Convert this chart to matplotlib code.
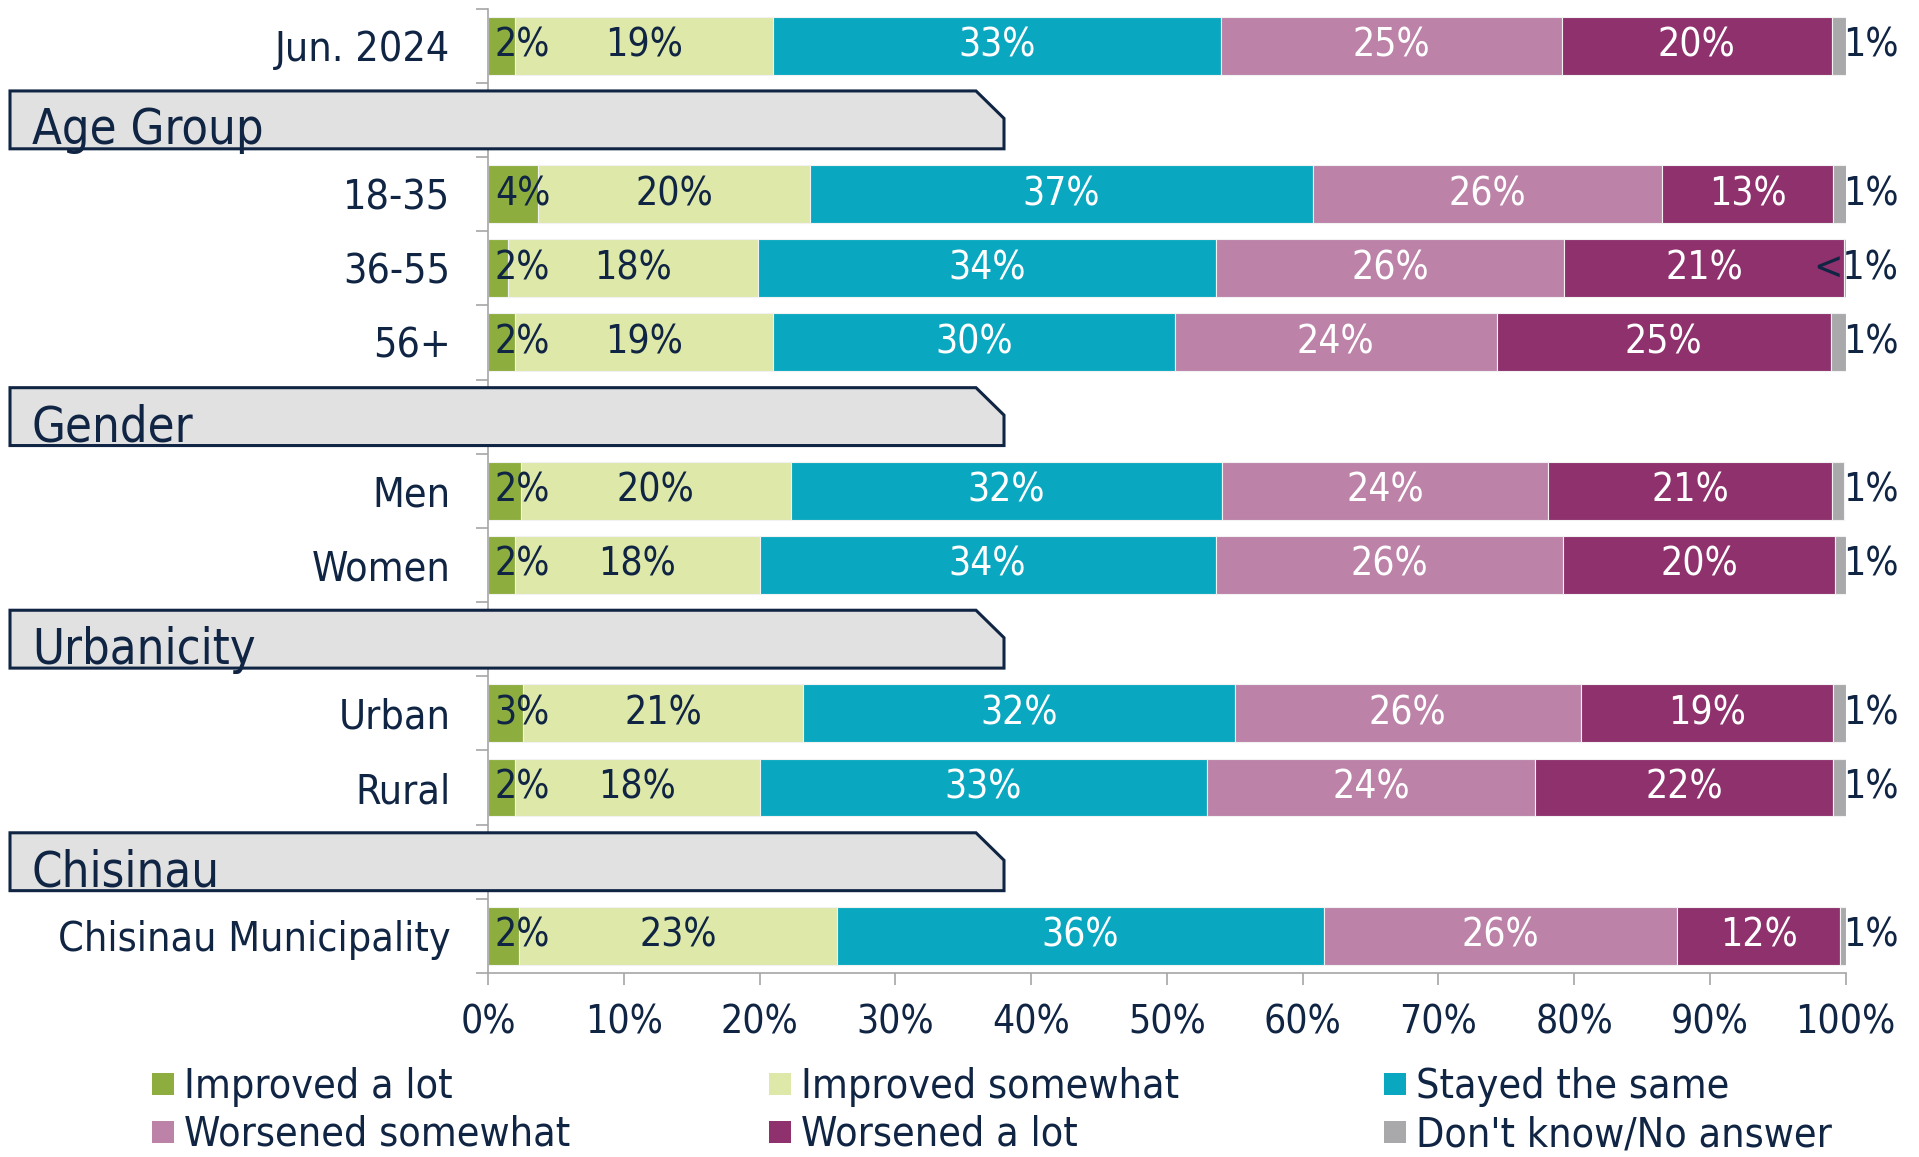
"""
Perceived change over the last year, by demographic group.
Stacked 100% horizontal bars with section header tabs.
"""

import matplotlib
matplotlib.use("Agg")
import matplotlib.pyplot as plt
from matplotlib import font_manager, transforms
from matplotlib.patches import Polygon, Rectangle
import numpy as np

# ---- data -------------------------------------------------------------------
row_order = ["Jun. 2024", "Age Group", "18-35", "36-55", "56+", "Gender",
             "Men", "Women", "Urbanicity", "Urban", "Rural", "Chisinau",
             "Chisinau Municipality"]
sections = ["Age Group", "Gender", "Urbanicity", "Chisinau"]
groups = ["Jun. 2024", "18-35", "36-55", "56+", "Men", "Women", "Urban",
          "Rural", "Chisinau Municipality"]

series_names = ["Improved a lot", "Improved somewhat", "Stayed the same",
                "Worsened somewhat", "Worsened a lot", "Don't know/No answer"]
improved_lot = [2.0, 3.7, 1.5, 2.0, 2.4, 2.0, 2.6, 2.0, 2.3]
improved_some = [19.0, 20.0, 18.4, 19.0, 19.9, 18.0, 20.6, 18.0, 23.4]
stayed_same = [33.0, 37.1, 33.7, 29.6, 31.8, 33.6, 31.8, 33.0, 35.9]
worsened_some = [25.1, 25.7, 25.7, 23.7, 24.0, 25.6, 25.5, 24.1, 26.0]
worsened_lot = [19.9, 12.6, 20.6, 24.6, 20.9, 20.0, 18.6, 22.0, 12.0]
dont_know = [1.0, 1.0, 0.1, 1.1, 0.9, 0.8, 0.9, 0.9, 0.4]
dont_know_labels = ["1%", "1%", "<1%", "1%", "1%", "1%", "1%", "1%", "1%"]

# ---- style ------------------------------------------------------------------
NAVY = "#102443"
GREY = "#A6A6A6"
colors = ["#8DAE3F", "#DDE8A9", "#0AA8C0", "#BC82A8", "#8E316C", "#A9A9AB"]
text_colors = [NAVY, NAVY, "white", "white", "white", "white"]


def _pick_font():
    """Prefer a condensed sans, the source deck uses one."""
    fonts = font_manager.fontManager.ttflist
    if any(f.name == "DejaVu Sans" and f.stretch == "condensed" for f in fonts):
        return "DejaVu Sans", "condensed"
    names = {f.name for f in fonts}
    if "Liberation Sans Narrow" in names:
        return "Liberation Sans Narrow", "normal"
    return "DejaVu Sans", "normal"


family, stretch = _pick_font()
plt.rcParams["font.family"] = [family, "DejaVu Sans"]
plt.rcParams["font.stretch"] = stretch
FS = 28        # value and tick labels
FS_CAT = 29.5  # category names and legend
FS_HEAD = 35

W, H = 1919, 1157
fig = plt.figure(figsize=(W / 100, H / 100), dpi=100)
ax = fig.add_axes([488 / W, 1 - 973 / H, (1845.5 - 488) / W, (973 - 8.6) / H])

ypos = np.array([row_order.index(g) for g in groups])
values = [improved_lot, improved_some, stayed_same, worsened_some,
          worsened_lot, dont_know]

left = np.zeros(len(groups))
for k, (vals, c) in enumerate(zip(values, colors)):
    vals = np.asarray(vals)
    ax.barh(ypos, vals, left=left, height=0.78, color=c,
            edgecolor="#F2F2F2", linewidth=0.8, label=series_names[k], zorder=2)
    if k < 5:
        for y, l, v in zip(ypos, left, vals):
            txt = f"{int(v + 0.5)}%"
            if k == 0:
                ax.text(0.5, y, txt, ha="left", va="center", fontsize=FS,
                        color=text_colors[k], zorder=4)
            else:
                ax.text(l + v / 2, y, txt, ha="center", va="center",
                        fontsize=FS, color=text_colors[k], zorder=4)
    left += vals

for y, lab in zip(ypos, dont_know_labels):
    ax.text(103.9, y, lab, ha="right", va="center", fontsize=FS, color=NAVY)

ax.set_xlim(0, 100)
ax.set_ylim(len(row_order) - 0.5, -0.5)

ax.set_xticks(range(0, 101, 10))
ax.set_xticklabels([f"{t}%" for t in range(0, 101, 10)])
ax.tick_params(axis="x", length=8.6, width=1.2, color=GREY, pad=13,
               labelsize=FS, labelcolor=NAVY)

ax.set_yticks(ypos)
ax.set_yticklabels(groups)
ax.set_yticks(np.arange(-0.5, len(row_order), 1), minor=True)
ax.tick_params(axis="y", which="major", length=0, pad=27,
               labelsize=FS_CAT, labelcolor=NAVY)
ax.tick_params(axis="y", which="minor", length=8.6, width=1.2, color=GREY)

for s in ["top", "right"]:
    ax.spines[s].set_visible(False)
for s in ["left", "bottom"]:
    ax.spines[s].set_color(GREY)
    ax.spines[s].set_linewidth(1.2)

# section header tabs, x in figure fraction and y in rows
trans = transforms.blended_transform_factory(fig.transFigure, ax.transData)
x0, x1, ch = 10 / W, 1004 / W, 28 / W
for name in sections:
    r = row_order.index(name)
    top, bot = r - 0.39, r + 0.39
    pts = [(x0, top), (x1 - ch, top), (x1, top + 0.37), (x1, bot), (x0, bot)]
    ax.add_patch(Polygon(pts, closed=True, transform=trans, clip_on=False,
                         facecolor="#E1E1E1", edgecolor=NAVY, linewidth=2.2,
                         zorder=5))
    ax.text(32 / W, r + 0.33, name, transform=trans, fontsize=FS_HEAD,
            color=NAVY, ha="left", va="baseline", zorder=6)

ax.set_xlim(0, 100)
ax.set_ylim(len(row_order) - 0.5, -0.5)

# legend, three columns read row-wise
col_x = [152 / W, 769 / W, 1384 / W]
row_y = [1 - 1095 / H, 1 - 1143 / H]
for i, (name, c) in enumerate(zip(series_names, colors)):
    cx, ry = col_x[i % 3], row_y[i // 3]
    fig.add_artist(Rectangle((cx, ry), 22 / W, 22 / H, transform=fig.transFigure,
                             facecolor=c, edgecolor="none"))
    fig.text(cx + 32 / W, ry - 3 / H, name, fontsize=FS_CAT, color=NAVY,
             ha="left", va="baseline")

fig.savefig("out.png", dpi=100)
